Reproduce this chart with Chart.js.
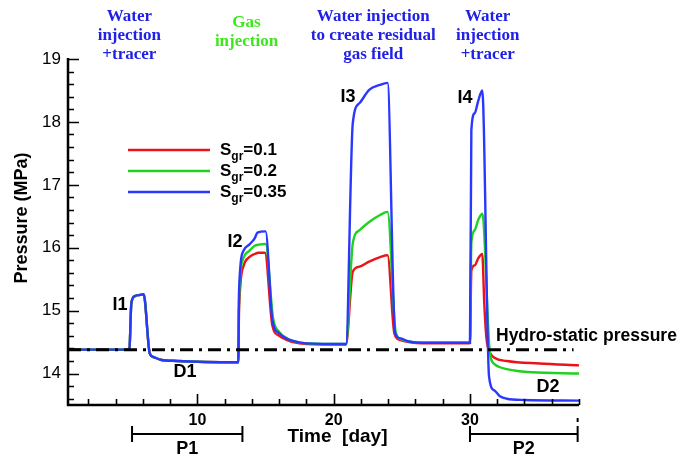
<!DOCTYPE html>
<html>
<head>
<meta charset="utf-8">
<script src="https://cdn.jsdelivr.net/npm/chart.js@4.4.1/dist/chart.umd.min.js"></script>
<style>
  html, body { margin: 0; padding: 0; background: #fff; }
  #wrap { position: relative; width: 683px; height: 456px; }
</style>
</head>
<body>
<div id="wrap"><canvas id="c" width="683" height="456"></canvas></div>
<script>
// time [day] and pressure [MPa], one pair of arrays per curve
const timeRed = [0.5, 5.0, 5.15, 5.4, 5.8, 6.05, 6.5, 6.8, 7.3, 8.5, 13.0, 13.05, 13.4, 13.8, 14.2, 14.5, 14.95, 15.5, 16.0, 16.5, 17.0, 18.0,
  20.9, 21.4, 21.9, 22.6, 23.4, 23.95, 24.45, 24.9, 25.5, 26.5, 30.0, 30.1, 30.35, 30.6, 30.9, 31.05, 31.2, 31.45, 31.8, 32.7, 35.1, 38.0];
const presRed = [14.38, 14.38, 15.12, 15.23, 15.25, 15.26, 14.32, 14.26, 14.22, 14.2, 14.18, 15.0, 15.72, 15.85, 15.9, 15.92, 15.92, 14.76, 14.6, 14.54, 14.5, 14.47,
  14.46, 15.62, 15.7, 15.78, 15.85, 15.88, 14.64, 14.53, 14.5, 14.48, 14.48, 15.64, 15.72, 15.83, 15.9, 15.11, 14.58, 14.34, 14.25, 14.2, 14.16, 14.13];

const timeGreen = [0.5, 5.0, 5.15, 5.4, 5.8, 6.05, 6.5, 6.8, 7.3, 8.5, 13.0, 13.05, 13.4, 13.8, 14.2, 14.5, 15.0, 15.55, 16.0, 16.5, 17.0, 18.0,
  20.9, 21.4, 21.9, 22.6, 23.4, 23.95, 24.55, 24.9, 25.5, 26.5, 30.0, 30.1, 30.35, 30.6, 30.9, 31.0, 31.45, 31.8, 32.2, 32.7, 33.5, 34.5, 38.0];
const presGreen = [14.38, 14.38, 15.12, 15.23, 15.25, 15.26, 14.32, 14.26, 14.22, 14.2, 14.18, 15.15, 15.85, 15.95, 16.03, 16.05, 16.06, 14.88, 14.66, 14.57, 14.52, 14.48,
  14.47, 16.07, 16.28, 16.41, 16.52, 16.57, 14.66, 14.55, 14.51, 14.49, 14.49, 16.07, 16.28, 16.44, 16.54, 16.4, 14.35, 14.15, 14.1, 14.07, 14.04, 14.02, 14.0];

const timeBlue = [0.5, 5.0, 5.15, 5.4, 5.8, 6.05, 6.5, 6.8, 7.3, 8.5, 13.0, 13.05, 13.4, 13.8, 14.2, 14.4, 15.0, 15.5, 16.0, 16.5, 17.0, 18.0,
  20.9, 21.4, 21.9, 22.6, 23.4, 23.95, 24.5, 24.9, 25.5, 26.5, 30.0, 30.1, 30.35, 30.6, 30.9, 31.4, 31.8, 32.2, 32.7, 34.0, 38.0];
const presBlue = [14.38, 14.38, 15.12, 15.23, 15.25, 15.26, 14.32, 14.26, 14.22, 14.2, 14.18, 15.3, 15.96, 16.05, 16.15, 16.24, 16.26, 14.85, 14.64, 14.56, 14.52, 14.48,
  14.47, 17.98, 18.3, 18.51, 18.59, 18.62, 14.65, 14.56, 14.51, 14.49, 14.49, 17.87, 18.14, 18.33, 18.5, 13.95, 13.73, 13.64, 13.6, 13.58, 13.57];

const hydroTime = [0.5, 37.6];
const hydroPres = [14.38, 14.38];

const legendValues = ['0.1', '0.2', '0.35'];
const xTickVals = [10, 20, 30];
const yTickVals = [14, 15, 16, 17, 18, 19];
const p1Days = [5.2, 13.3];
const p2Days = [30.0, 37.9];

const RED = '#e8141a', GREEN = '#1fd21f', BLUE = '#2a37ff';
const pts = (xs, ys) => xs.map((x, i) => ({ x: x, y: ys[i] }));

function txt(ctx, s, x, y, font, color, align) {
  ctx.font = font;
  ctx.fillStyle = color || '#000';
  ctx.textAlign = align || 'center';
  ctx.textBaseline = 'middle';
  ctx.fillText(s, x, y);
}

const decor = {
  id: 'decor',
  afterDraw(chart) {
    const ctx = chart.ctx, xs = chart.scales.x, ys = chart.scales.y, a = chart.chartArea;
    ctx.save();
    // axes
    ctx.strokeStyle = '#000';
    ctx.lineWidth = 2.5;
    ctx.beginPath();
    ctx.moveTo(a.left, a.top - 1);
    ctx.lineTo(a.left, a.bottom);
    ctx.lineTo(a.right, a.bottom);
    ctx.stroke();
    // inward tick marks
    ctx.lineWidth = 1.6;
    ctx.beginPath();
    for (let v = 13.6; v <= 19.001; v += 0.2) {
      const y = Math.round(ys.getPixelForValue(v)) + 0.5;
      const major = Math.abs(v - Math.round(v)) < 0.01;
      ctx.moveTo(a.left, y);
      ctx.lineTo(a.left + (major ? 11 : 6), y);
    }
    for (let d = 2; d <= 38; d += 2) {
      const x = Math.round(xs.getPixelForValue(d)) + 0.5;
      const major = d % 10 === 0;
      ctx.moveTo(x, a.bottom);
      ctx.lineTo(x, a.bottom - (major ? 11 : 6));
    }
    ctx.stroke();

    // axis titles
    txt(ctx, 'Time  [day]', (a.left + a.right) / 2 + 14, 437, 'bold 19px "Liberation Sans"', '#000');
    ctx.save();
    ctx.translate(22, 218);
    ctx.rotate(-Math.PI / 2);
    txt(ctx, 'Pressure (MPa)', 0, 0, 'bold 18px "Liberation Sans"', '#000');
    ctx.restore();

    // period brackets
    ctx.lineWidth = 2;
    [p1Days, p2Days].forEach(r => {
      const x0 = xs.getPixelForValue(r[0]), x1 = xs.getPixelForValue(r[1]);
      ctx.beginPath();
      ctx.moveTo(x0, 426); ctx.lineTo(x0, 442);
      ctx.moveTo(x0, 434); ctx.lineTo(x1, 434);
      ctx.moveTo(x1, 426); ctx.lineTo(x1, 442);
      ctx.stroke();
    });
    ctx.beginPath();
    ctx.moveTo(xs.getPixelForValue(p2Days[1]), 418); ctx.lineTo(xs.getPixelForValue(p2Days[1]), 422);
    ctx.stroke();
    txt(ctx, 'P1', xs.getPixelForValue((p1Days[0] + p1Days[1]) / 2), 449, 'bold 18px "Liberation Sans"');
    txt(ctx, 'P2', xs.getPixelForValue((p2Days[0] + p2Days[1]) / 2), 449, 'bold 18px "Liberation Sans"');

    // injection headings
    const hf = 'bold 17px "Liberation Serif"', hb = '#2020e6', hg = '#3ee61e';
    const c1 = xs.getPixelForValue(5.0), c2 = xs.getPixelForValue(13.6);
    const c3 = xs.getPixelForValue(22.9), c4 = xs.getPixelForValue(31.3);
    txt(ctx, 'Water', c1, 17, hf, hb); txt(ctx, 'injection', c1, 36, hf, hb); txt(ctx, '+tracer', c1, 55, hf, hb);
    txt(ctx, 'Gas', c2, 23, hf, hg); txt(ctx, 'injection', c2, 42, hf, hg);
    txt(ctx, 'Water injection', c3, 17, hf, hb); txt(ctx, 'to create residual', c3, 36, hf, hb); txt(ctx, 'gas field', c3, 55, hf, hb);
    txt(ctx, 'Water', c4, 17, hf, hb); txt(ctx, 'injection', c4, 36, hf, hb); txt(ctx, '+tracer', c4, 55, hf, hb);

    // event labels
    const lf = 'bold 18px "Liberation Sans"';
    txt(ctx, 'I1', 120, 305, lf); txt(ctx, 'D1', 185, 372, lf);
    txt(ctx, 'I2', 235, 242, lf); txt(ctx, 'I3', 348, 97, lf);
    txt(ctx, 'I4', 465, 98, lf); txt(ctx, 'D2', 548, 387, lf);
    txt(ctx, 'Hydro-static pressure', 496, 336, 'bold 17.5px "Liberation Sans"', '#000', 'left');

    // legend
    const cols = [RED, GREEN, BLUE];
    legendValues.forEach((v, i) => {
      const y = 150 + i * 21;
      ctx.strokeStyle = cols[i];
      ctx.lineWidth = 2.5;
      ctx.beginPath(); ctx.moveTo(128, y); ctx.lineTo(210, y); ctx.stroke();
      ctx.fillStyle = '#000';
      ctx.textAlign = 'left';
      ctx.textBaseline = 'alphabetic';
      ctx.font = 'bold 17px "Liberation Sans"';
      ctx.fillText('S', 220, y + 5);
      const w = ctx.measureText('S').width;
      ctx.font = 'bold 12px "Liberation Sans"';
      ctx.fillText('gr', 220 + w, y + 10);
      const w2 = ctx.measureText('gr').width;
      ctx.font = 'bold 17px "Liberation Sans"';
      ctx.fillText('=' + v, 220 + w + w2, y + 5);
    });
    ctx.restore();
  }
};

const line = (label, data, color) => ({
  label: label, data: data, borderColor: color, borderWidth: 2.4,
  pointRadius: 0, fill: false, cubicInterpolationMode: 'monotone'
});

new Chart(document.getElementById('c'), {
  type: 'line',
  data: {
    datasets: [
      { label: 'Hydro-static pressure', data: pts(hydroTime, hydroPres), borderColor: '#000', borderWidth: 3,
        borderDash: [13, 6, 3, 6], pointRadius: 0, fill: false },
      line('Sgr=0.35', pts(timeBlue, presBlue), BLUE),
      line('Sgr=0.2', pts(timeGreen, presGreen), GREEN),
      line('Sgr=0.1', pts(timeRed, presRed), RED)
    ]
  },
  options: {
    responsive: false,
    animation: false,
    layout: { padding: { left: 0, right: 104, top: 59, bottom: 0 } },
    plugins: { legend: { display: false }, tooltip: { enabled: false } },
    scales: {
      x: {
        type: 'linear', min: 0.5, max: 38,
        afterBuildTicks: s => { s.ticks = xTickVals.map(v => ({ value: v })); },
        afterFit: s => { s.height = 51; },
        grid: { display: false, drawTicks: false },
        border: { display: false },
        ticks: { autoSkip: false, maxRotation: 0, padding: 6, color: '#000',
          font: { family: 'Liberation Sans', size: 16, weight: 'bold' } }
      },
      y: {
        type: 'linear', min: 13.5, max: 19,
        afterBuildTicks: s => { s.ticks = yTickVals.map(v => ({ value: v })); },
        afterFit: s => { s.width = 68; },
        grid: { display: false, drawTicks: false },
        border: { display: false },
        ticks: { padding: 7, color: '#000', font: { family: 'Liberation Sans', size: 17 } }
      }
    }
  },
  plugins: [decor]
});
</script>
</body>
</html>
